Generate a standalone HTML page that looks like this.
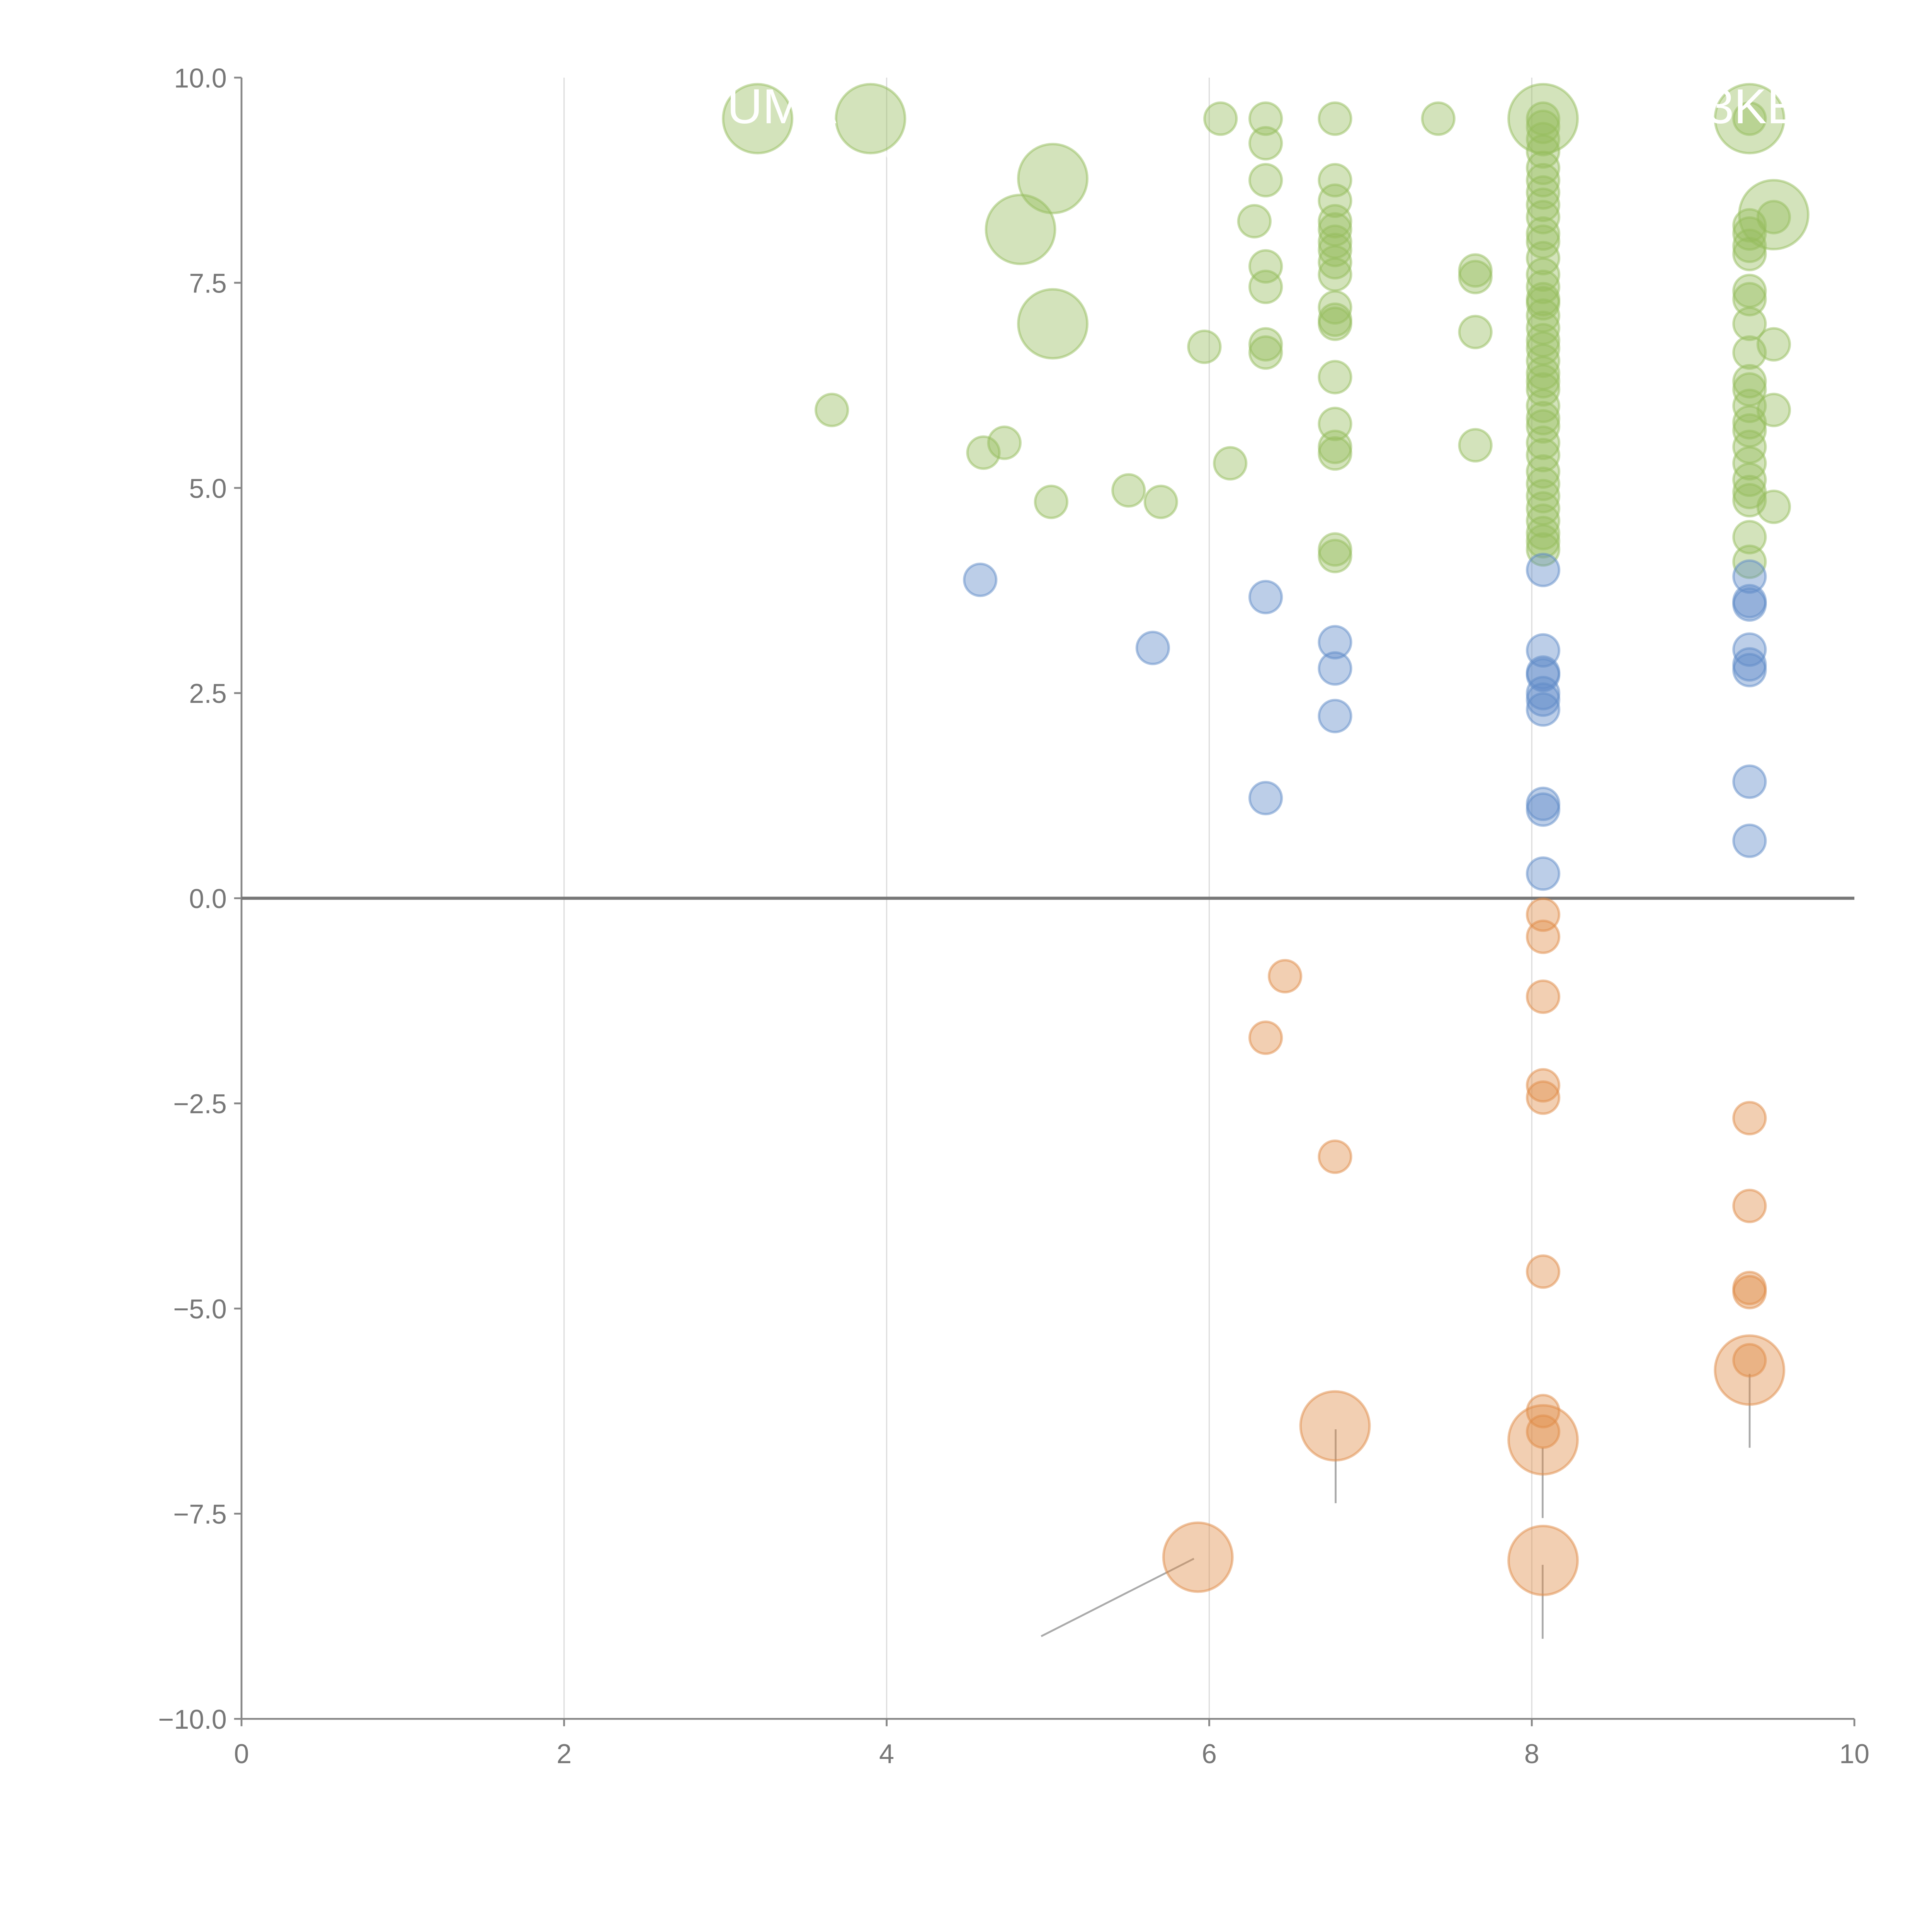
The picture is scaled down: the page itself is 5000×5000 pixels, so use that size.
<!DOCTYPE html>
<html><head><meta charset="utf-8"><style>
html,body{margin:0;padding:0;background:#fff;}
svg{display:block;}
text{font-family:"Liberation Sans",sans-serif;}
</style></head><body>
<svg id="chart" width="5000" height="5000" viewBox="0 0 1568 1568" xmlns="http://www.w3.org/2000/svg">
<g id="grid"></g>
<g id="axes"></g>
<g id="leaders"></g>
<g id="marks"></g>
<g id="labels"></g>
</svg>
<script>
const xTicks=[0,2,4,6,8,10];
const yTicks=[10,7.5,5,2.5,0,-2.5,-5,-7.5,-10];
const greenX=[6.35,6.35,6.35,6.35,6.35,6.35,6.35,6.28,6.07,5.97,6.13,
6.78,6.78,6.78,6.78,6.78,6.78,6.78,6.78,6.78,6.78,6.78,6.78,6.78,6.78,6.78,6.78,6.78,6.78,
7.42,7.65,7.65,7.65,7.65,
8.07,8.07,8.07,8.07,8.07,8.07,8.07,8.07,8.07,8.07,8.07,8.07,8.07,8.07,8.07,8.07,8.07,8.07,8.07,8.07,8.07,8.07,8.07,8.07,8.07,8.07,8.07,8.07,8.07,8.07,8.07,8.07,8.07,8.07,8.07,8.07,8.07,
9.35,9.35,9.35,9.35,9.35,9.35,9.35,9.35,9.35,9.35,9.35,9.35,9.35,9.35,9.35,9.35,9.35,9.35,9.35,9.35,9.35,
9.5,9.5,9.5,9.5,3.66,4.6,4.73,5.02,5.5,5.7];
const greenY=[9.5,9.2,8.75,7.7,7.45,6.75,6.65,8.25,9.5,6.72,5.3,
9.5,8.75,8.5,8.25,8.15,8.0,7.9,7.75,7.6,7.2,7.05,7.0,6.35,5.78,5.5,5.42,4.25,4.17,
9.5,7.65,7.57,6.9,5.52,
9.5,9.4,9.25,9.1,8.9,8.75,8.6,8.45,8.3,8.1,8.0,7.8,7.6,7.45,7.3,7.25,7.1,6.95,6.8,6.7,6.55,6.4,6.3,6.2,6.0,5.85,5.75,5.55,5.4,5.2,5.05,4.9,4.75,4.6,4.45,4.35,4.25,
9.5,8.2,8.1,7.95,7.85,7.4,7.3,7.0,6.65,6.3,6.2,6.0,5.8,5.7,5.5,5.3,5.1,4.95,4.85,4.4,4.1,
8.3,6.75,5.95,4.77,5.95,5.43,5.55,4.83,4.97,4.83];
const bigGreenX=[3.2,3.9,5.03,4.83,5.03,8.07,9.35,9.5];
const bigGreenY=[9.5,9.5,8.77,8.15,7.0,9.5,9.5,8.33];
const blueX=[4.58,5.65,6.35,6.35,6.78,6.78,6.78,8.07,8.07,8.07,8.07,8.07,8.07,8.07,8.07,8.07,8.07,9.35,9.35,9.35,9.35,9.35,9.35,9.35,9.35];
const blueY=[3.88,3.05,3.67,1.22,3.12,2.8,2.22,4.0,3.02,2.75,2.72,2.5,2.42,2.3,1.15,1.08,0.3,3.92,3.62,3.58,3.03,2.85,2.78,1.42,0.7];
const orangeX=[6.47,6.35,6.78,8.07,8.07,8.07,8.07,8.07,8.07,8.07,8.07,9.35,9.35,9.35,9.35,9.35];
const orangeY=[-0.95,-1.7,-3.15,-0.2,-0.47,-1.2,-2.28,-2.43,-4.55,-6.25,-6.5,-2.68,-3.75,-4.75,-4.8,-5.63];
const bigOrangeX=[6.78,8.07,8.07,5.93,9.35];
const bigOrangeY=[-6.43,-6.6,-8.07,-8.03,-5.75];

const NS="http://www.w3.org/2000/svg";
const X=v=>196+(v-0)*(1505-196)/10;
const Y=v=>729-v*(1395-63)/20;
function mk(tag,attrs,parent){const e=document.createElementNS(NS,tag);for(const k in attrs)e.setAttribute(k,attrs[k]);parent.appendChild(e);return e;}
const grid=document.getElementById('grid'),axes=document.getElementById('axes'),marks=document.getElementById('marks'),leaders=document.getElementById('leaders'),labels=document.getElementById('labels');

xTicks.forEach(t=>{
  if(t>0&&t<10){const g=mk('line',{x1:X(t),x2:X(t),y1:Y(10),y2:Y(-10),stroke:'#ddd','stroke-width':1},grid);
  
  }
  const tk=mk('line',{x1:X(t),x2:X(t),y1:Y(-10),y2:Y(-10)+6,stroke:'#888','stroke-width':1.5},axes);
  
  
  const tx=mk('text',{x:X(t),y:Y(-10)+36,'text-anchor':'middle','font-size':22,fill:'#777'},axes);
  tx.textContent=t;
  
  
});
yTicks.forEach(t=>{
  const tk=mk('line',{x1:X(0)-6,x2:X(0),y1:Y(t),y2:Y(t),stroke:'#888','stroke-width':1.5},axes);
  
  
  const tx=mk('text',{x:X(0)-12,y:Y(t)+8,'text-anchor':'end','font-size':22,fill:'#777'},axes);
  tx.textContent=(t<0?'\u2212':'')+Math.abs(t).toFixed(1);
  
  
});
let a=mk('line',{x1:X(0),x2:X(0),y1:Y(10),y2:Y(-10),stroke:'#888','stroke-width':1.5},axes);


a=mk('line',{x1:X(0),x2:X(10),y1:Y(-10),y2:Y(-10),stroke:'#888','stroke-width':1.5},axes);


a=mk('line',{x1:X(0),x2:X(10),y1:Y(0),y2:Y(0),stroke:'#777','stroke-width':2.5},axes);



function dots(xs,ys,r,color,name){
  xs.forEach((x,i)=>{
    const c=mk('circle',{cx:X(x),cy:Y(ys[i]),r:r,fill:color,'fill-opacity':0.42,stroke:color,'stroke-opacity':0.5,'stroke-width':2},marks);
    
    
  });
}
dots(greenX,greenY,13,'#96bd5e','green-bubble');
dots(bigGreenX,bigGreenY,28,'#96bd5e','large-green-bubble');
dots(blueX,blueY,13,'#5f8bc8','blue-bubble');
dots(orangeX,orangeY,13,'#e08c48','orange-bubble');
dots(bigOrangeX,bigOrangeY,28,'#e08c48','large-orange-bubble');

[[969,1265,845,1328],[1084,1160,1084,1220],[1252,1175,1252,1232],[1252,1270,1252,1330],[1420,1115,1420,1175]].forEach(l=>{
  const e=mk('line',{x1:l[0],y1:l[1],x2:l[2],y2:l[3],stroke:'#aaa','stroke-width':1.5},leaders);
  
  
});
[[707,100,722,130],[855,127,842,110],[818,212,825,190],[860,263,884,255],[1258,96,1282,94],[1410,195,1436,176]].forEach(l=>{
  const e=mk('line',{x1:l[0],y1:l[1],x2:l[2],y2:l[3],stroke:'#fff','stroke-opacity':0.6,'stroke-width':2},leaders);
  
  
});
[['UMA',590,100],['3KE',1385,100]].forEach(t=>{
  const e=mk('text',{x:t[1],y:t[2],'font-size':40,fill:'#fff'},labels);
  e.textContent=t[0];
  
  
});
</script>
</body></html>
